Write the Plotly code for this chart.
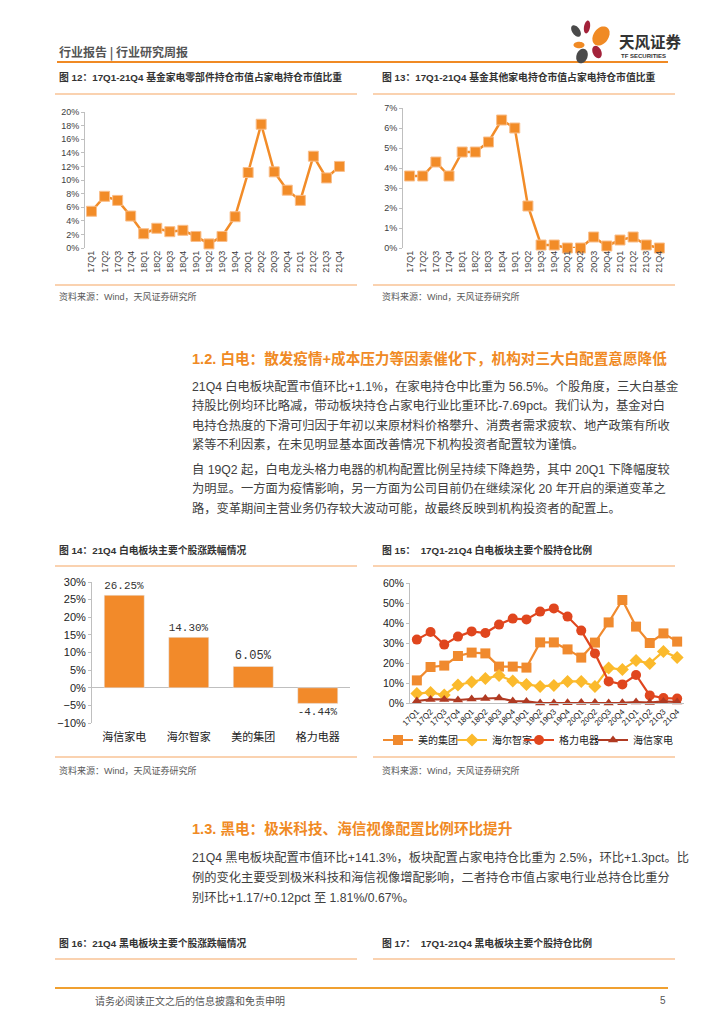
import numpy as np
import plotly.graph_objects as go

W, H = 724, 1024

# ---------------- data ----------------
quarters = ["17Q1", "17Q2", "17Q3", "17Q4", "18Q1", "18Q2", "18Q3", "18Q4", "19Q1", "19Q2",
            "19Q3", "19Q4", "20Q1", "20Q2", "20Q3", "20Q4", "21Q1", "21Q2", "21Q3", "21Q4"]

parts_share = [5.4, 7.6, 7.0, 4.7, 2.1, 2.9, 2.4, 2.6, 1.7, 0.6,
               1.7, 4.6, 11.1, 18.2, 11.2, 8.5, 7.0, 13.5, 10.3, 12.0]

other_share = [3.6, 3.6, 4.3, 3.6, 4.8, 4.8, 5.3, 6.4, 6.0, 2.1,
               0.15, 0.15, 0.0, 0.0, 0.55, 0.1, 0.4, 0.55, 0.15, 0.0]

stocks14 = ["海信家电", "海尔智家", "美的集团", "格力电器"]
change14 = [26.25, 14.30, 6.05, -4.44]

midea = [11.3, 18.0, 18.7, 23.5, 25.2, 24.8, 18.2, 18.2, 17.7, 30.3,
         30.3, 26.8, 22.7, 30.2, 40.3, 51.5, 38.2, 30.0, 34.8, 30.7]
haier = [4.7, 5.3, 4.0, 9.0, 10.5, 12.2, 13.8, 11.0, 9.3, 8.3,
         8.8, 10.8, 10.8, 8.3, 17.5, 16.7, 21.2, 19.8, 25.8, 22.8]
gree = [31.7, 35.5, 29.2, 33.2, 35.8, 35.0, 39.2, 42.2, 41.8, 45.7,
        47.3, 43.2, 36.2, 24.8, 10.8, 9.3, 14.0, 3.8, 2.5, 2.2]
hisense = [1.0, 1.8, 1.8, 1.5, 2.0, 2.2, 2.5, 1.0, 0.8, 0.0,
           0.0, 0.1, 0.3, 0.3, 0.0, 0.1, 0.5, 0.2, 0.8, 0.5]
names15 = ["美的集团", "海尔智家", "格力电器", "海信家电"]

# ---------------- helpers ----------------
FONT = "Liberation Sans, Noto Sans CJK SC"
CJK = "Noto Sans CJK SC"
ORANGE = "#F08A24"
LINE_OR = "#F5A563"
TXT = "#404040"
AX = "#BFBFBF"
NQ = len(quarters)


def px(x):
    return x / W


def py(y):
    return 1 - y / H


annotations = []
shapes = []


def text(x, y, s, size=10, color=TXT, bold=False, anchor="left", family=FONT):
    if bold:
        s = "<b>" + s + "</b>"
    annotations.append(dict(x=px(x), y=py(y), xref="paper", yref="paper", text=s,
                            showarrow=False, xanchor=anchor, yanchor="middle",
                            font=dict(size=size, color=color, family=family)))


def hline(x0, x1, y, color=LINE_OR, width=1.2):
    shapes.append(dict(type="line", xref="paper", yref="paper", x0=px(x0), x1=px(x1),
                       y0=py(y), y1=py(y), line=dict(color=color, width=width)))


def petal(cx, cy, rx, ry, ang, color):
    t = np.linspace(0, 2 * np.pi, 40)
    a = np.deg2rad(ang)
    xs = cx + rx * np.cos(t) * np.cos(a) - ry * np.sin(t) * np.sin(a)
    ys = cy + rx * np.cos(t) * np.sin(a) + ry * np.sin(t) * np.cos(a)
    p = "M " + " L ".join(f"{px(x):.5f},{py(y):.5f}" for x, y in zip(xs, ys)) + " Z"
    shapes.append(dict(type="path", xref="paper", yref="paper", path=p,
                       fillcolor=color, line=dict(width=0)))


fig = go.Figure()

# ---------------- chart 12 ----------------
fig.add_trace(go.Scatter(x=quarters, y=parts_share, xaxis="x", yaxis="y", mode="lines+markers",
                         line=dict(color="#F28C28", width=2.5),
                         marker=dict(symbol="square", size=10, color="#F28C28",
                                     line=dict(color="#F9BE8A", width=1)),
                         showlegend=False, cliponaxis=False))
# ---------------- chart 13 ----------------
fig.add_trace(go.Scatter(x=quarters, y=other_share, xaxis="x2", yaxis="y2", mode="lines+markers",
                         line=dict(color="#F28C28", width=2.5),
                         marker=dict(symbol="square", size=10, color="#F28C28",
                                     line=dict(color="#F9BE8A", width=1)),
                         showlegend=False, cliponaxis=False))
# ---------------- chart 14 ----------------
fig.add_trace(go.Bar(x=stocks14, y=change14, xaxis="x3", yaxis="y3", width=0.62,
                     marker=dict(color="#F28A2A"),
                     texttemplate="%{y:.2f}%", textposition="outside", cliponaxis=False,
                     textfont=dict(family="Liberation Mono", size=12, color="#333333"),
                     showlegend=False))
# ---------------- chart 15 ----------------
series15 = [midea, haier, gree, hisense]
colors15 = ["#F08A2E", "#FBBA2C", "#E0461E", "#B03A22"]
symbols15 = ["square", "diamond", "circle", "triangle-up"]
sizes15 = [10, 10, 10, 9]
legend_ids = ["legend", "legend2", "legend3", "legend4"]
legend_x = [378, 452, 519, 593]
for nm, vals, c, s, sz, lg in zip(names15, series15, colors15, symbols15, sizes15, legend_ids):
    fig.add_trace(go.Scatter(x=quarters, y=vals, xaxis="x4", yaxis="y4", name=nm, legend=lg,
                             mode="lines+markers", line=dict(color=c, width=2.2),
                             marker=dict(symbol=s, size=sz, color=c), cliponaxis=False))

yax_common = dict(showgrid=False, showline=True, linecolor=AX, linewidth=1, ticks="outside",
                  tickcolor=AX, ticklen=3, ticksuffix="%", zeroline=False, automargin=False,
                  tickfont=dict(size=9, color=TXT, family="Liberation Sans"))
xax_common = dict(showgrid=False, showline=False, ticks="", zeroline=False, automargin=False,
                  range=[-0.5, NQ - 0.5],
                  tickfont=dict(size=9, color=TXT, family="Liberation Sans"))

layout = dict(
    width=W, height=H, margin=dict(l=0, r=0, t=0, b=0, autoexpand=False),
    paper_bgcolor="white", plot_bgcolor="white",
    font=dict(family=FONT, color=TXT),
    xaxis=dict(domain=[px(85), px(346)], anchor="y", tickangle=-90, **xax_common),
    yaxis=dict(domain=[py(248), py(112)], anchor="x", range=[0, 20], dtick=2, **yax_common),
    xaxis2=dict(domain=[px(403), px(666)], anchor="y2", tickangle=-90, **xax_common),
    yaxis2=dict(domain=[py(248), py(108)], anchor="x2", range=[0, 7], dtick=1, **yax_common),
    xaxis3=dict(domain=[px(92), px(350)], anchor="y3", showgrid=False, showline=False, ticks="",
                zeroline=False, automargin=False, ticklabelstandoff=6,
                tickfont=dict(size=11, color="#222222", family=CJK)),
    yaxis3=dict(domain=[py(723), py(582)], anchor="x3", range=[-10, 30], dtick=5,
                **{**yax_common, "zeroline": True, "zerolinecolor": AX, "zerolinewidth": 1,
                   "tickfont": dict(size=11, color="#222222", family="Liberation Sans")}),
    xaxis4=dict(domain=[px(410), px(684)], anchor="y4", tickangle=-45, showgrid=False,
                showline=True, linecolor=AX, ticks="", zeroline=False, automargin=False,
                range=[-0.5, NQ - 0.5],
                tickfont=dict(size=8, color="#222222", family="Liberation Sans")),
    yaxis4=dict(domain=[py(703), py(583)], anchor="x4", range=[0, 60], dtick=10,
                **{**yax_common, "tickfont": dict(size=10.5, color="#222222", family="Liberation Sans")}),
)
for lg, lx in zip(legend_ids, legend_x):
    layout[lg] = dict(orientation="h", x=px(lx), y=py(740), xanchor="left", yanchor="middle",
                      font=dict(size=10, color="#222222", family=CJK), itemwidth=30,
                      bgcolor="rgba(0,0,0,0)", borderwidth=0)

# ---------------- header ----------------
text(57, 52, "行业报告 | 行业研究周报", size=12, color="#555555", bold=True, family=CJK)
hline(57, 668, 62, color=ORANGE, width=2)
petal(576, 31, 3.8, 6.5, -35, "#4A4A4A")
petal(587, 27, 3, 6.5, 10, "#A3223A")
petal(601, 36, 7.5, 10.5, 35, ORANGE)
petal(579, 45, 5.5, 3.2, 0, ORANGE)
petal(597, 52, 4.3, 6.5, -25, "#A3223A")
petal(582, 56, 5.5, 7.5, 20, "#4A4A4A")
text(617, 41, "天风证券", size=15.5, color="#333333", bold=True, family=CJK)
text(619, 56, "TF SECURITIES", size=6, color="#333333", bold=True, family="Liberation Sans")

# ---------------- chart titles / sources ----------------
text(57, 77, "图 12：17Q1-21Q4 基金家电零部件持仓市值占家电持仓市值比重", size=9.8, color="#333333", bold=True)
text(380, 77, "图 13：17Q1-21Q4 基金其他家电持仓市值占家电持仓市值比重", size=9.8, color="#333333", bold=True)
hline(55, 357, 94)
hline(373, 675, 94)
hline(55, 357, 285)
hline(373, 675, 285)
text(57, 296, "资料来源：Wind，天风证券研究所", size=9, color="#595959")
text(380, 296, "资料来源：Wind，天风证券研究所", size=9, color="#595959")

text(57, 550, "图 14：21Q4 白电板块主要个股涨跌幅情况", size=9.8, color="#333333", bold=True)
text(380, 550, "图 15：  17Q1-21Q4 白电板块主要个股持仓比例", size=9.8, color="#333333", bold=True)
hline(55, 357, 566)
hline(373, 675, 566)
hline(55, 357, 757)
hline(373, 675, 757)
text(57, 770, "资料来源：Wind，天风证券研究所", size=9, color="#595959")
text(380, 770, "资料来源：Wind，天风证券研究所", size=9, color="#595959")

text(57, 943, "图 16：21Q4 黑电板块主要个股涨跌幅情况", size=9.8, color="#333333", bold=True)
text(380, 943, "图 17：  17Q1-21Q4 黑电板块主要个股持仓比例", size=9.8, color="#333333", bold=True)
hline(55, 357, 959)
hline(373, 675, 959)

# ---------------- body text ----------------
HEAD = 14.6
BODY = 12.25
text(190, 358, "1.2. 白电：散发疫情+成本压力等因素催化下，机构对三大白配置意愿降低", size=HEAD, color=ORANGE, bold=True)
para1 = ["21Q4 白电板块配置市值环比+1.1%，在家电持仓中比重为 56.5%。个股角度，三大白基金",
         "持股比例均环比略减，带动板块持仓占家电行业比重环比-7.69pct。我们认为，基金对白",
         "电持仓热度的下滑可归因于年初以来原材料价格攀升、消费者需求疲软、地产政策有所收",
         "紧等不利因素，在未见明显基本面改善情况下机构投资者配置较为谨慎。"]
for i, s in enumerate(para1):
    text(190, 386 + 19.5 * i, s, size=BODY, color=TXT)
para2 = ["自 19Q2 起，白电龙头格力电器的机构配置比例呈持续下降趋势，其中 20Q1 下降幅度较",
         "为明显。一方面为疫情影响，另一方面为公司目前仍在继续深化 20 年开启的渠道变革之",
         "路，变革期间主营业务仍存较大波动可能，故最终反映到机构投资者的配置上。"]
for i, s in enumerate(para2):
    text(190, 469 + 19.5 * i, s, size=BODY, color=TXT)

text(190, 828, "1.3. 黑电：极米科技、海信视像配置比例环比提升", size=HEAD, color=ORANGE, bold=True)
para3 = ["21Q4 黑电板块配置市值环比+141.3%，板块配置占家电持仓比重为 2.5%，环比+1.3pct。比",
         "例的变化主要受到极米科技和海信视像增配影响，二者持仓市值占家电行业总持仓比重分",
         "别环比+1.17/+0.12pct 至 1.81%/0.67%。"]
for i, s in enumerate(para3):
    text(190, 857 + 20.5 * i, s, size=BODY, color=TXT)

# ---------------- footer ----------------
hline(55, 668, 988, color="#F0A030", width=2)
text(93, 1000, "请务必阅读正文之后的信息披露和免责申明", size=10, color="#555555", family=CJK)
text(668, 1000, "5", size=10, color="#555555", anchor="right")

layout["annotations"] = annotations
layout["shapes"] = shapes
fig.update_layout(**layout)
fig.write_html("out.html", config={"displayModeBar": False},
               post_script="document.body.style.margin='0px';document.body.style.padding='0px';")
